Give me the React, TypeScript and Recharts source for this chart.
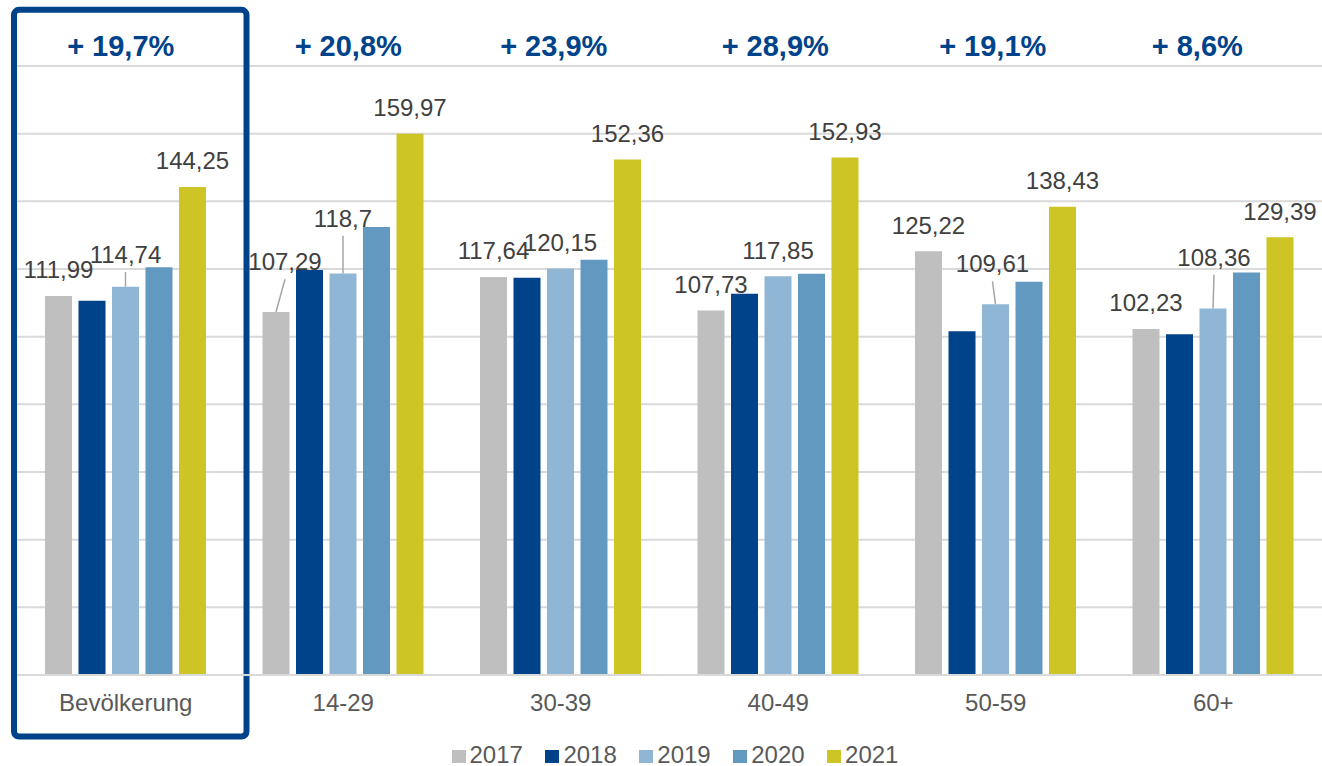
import React from 'react';
import { BarChart, Bar, XAxis, YAxis, CartesianGrid, Legend, LabelList, ReferenceArea } from 'recharts';

const categories = ['Bevölkerung', '14-29', '30-39', '40-49', '50-59', '60+'];
const growthLabels = ['+ 19,7%', '+ 20,8%', '+ 23,9%', '+ 28,9%', '+ 19,1%', '+ 8,6%'];
const values2017 = [111.99, 107.29, 117.64, 107.73, 125.22, 102.23];
const values2018 = [110.6, 119.7, 117.4, 112.7, 101.6, 100.7];
const values2019 = [114.74, 118.7, 120.15, 117.85, 109.61, 108.36];
const values2020 = [120.5, 132.4, 122.7, 118.6, 116.2, 119.0];
const values2021 = [144.25, 159.97, 152.36, 152.93, 138.43, 129.39];
const yTicks = [0, 20, 40, 60, 80, 100, 120, 140, 160, 180];
const highlightedCategory = 'Bevölkerung';

// styling (not data)
const colors: Record<string, string> = {
  '2017': '#BFBFBF',
  '2018': '#00438A',
  '2019': '#8FB7D5',
  '2020': '#6299C1',
  '2021': '#CDC425',
};
const growthDx = [-5, 5, -7, -3, -3, -16];
const labelTweaks: Record<string, { dx: number; lift: number }> = {
  '2019|Bevölkerung': { dx: 0, lift: 6 },
  '2017|14-29': { dx: 9, lift: 24 },
  '2019|14-29': { dx: 0, lift: 29 },
  '2019|50-59': { dx: -3, lift: 14 },
  '2019|60+': { dx: 1, lift: 25 },
};

const data = categories.map((name, i) => ({
  name,
  '2017': values2017[i],
  '2018': values2018[i],
  '2019': values2019[i],
  '2020': values2020[i],
  '2021': values2021[i],
}));

const formatValue = (v: number) => String(v).replace('.', ',');

const makeLabel = (series: string, values: number[]) => (props: any) => {
  const vb = props.viewBox || {};
  const x = vb.x ?? props.x;
  const y = vb.y ?? props.y;
  const w = vb.width ?? props.width;
  const idx = typeof props.index === 'number' ? props.index : values.indexOf(props.value);
  const cat = categories[idx];
  const st = labelTweaks[`${series}|${cat}`] || { dx: 0, lift: 0 };
  const cx = x + w / 2;
  const baseline = y - 17.7 - st.lift;
  const tx = cx + st.dx;
  return (
    <g>
      {st.lift > 0 && (
        <line x1={tx} y1={baseline + 9} x2={cx} y2={y} stroke="#A6A6A6" strokeWidth={1.5} />
      )}
      <text x={tx} y={baseline} textAnchor="middle" fontSize={24} fill="#404040">
        {formatValue(props.value)}
      </text>
    </g>
  );
};

const GrowthTick = (props: any) => {
  const idx = props.index ?? props.payload?.index ?? 0;
  return (
    <text
      x={props.x + growthDx[idx]}
      y={props.y}
      textAnchor="middle"
      fontSize={29}
      fontWeight="bold"
      fill="#00438A"
    >
      {growthLabels[idx]}
    </text>
  );
};

const BoxShape = (props: any) => (
  <rect
    x={props.x - 3}
    y={props.y}
    width={props.width + 15}
    height={props.height}
    rx={5}
    ry={5}
    fill="none"
    stroke="#00438A"
    strokeWidth={6}
  />
);

const renderLegend = (props: any) => {
  const payload = props.payload || [];
  return (
    <div
      style={{
        width: 1322,
        height: 28,
        lineHeight: '28px',
        textAlign: 'center',
        paddingLeft: 28,
        boxSizing: 'border-box',
        fontSize: 24,
        color: '#595959',
        whiteSpace: 'nowrap',
      }}
    >
      <div style={{ position: 'relative', top: 3 }}>
        {payload.map((p: any, i: number) => (
          <span key={p.value} style={{ display: 'inline-block', marginLeft: i ? 22.5 : 0 }}>
            <span
              style={{
                display: 'inline-block',
                width: 14,
                height: 13,
                background: p.color,
                marginRight: 4,
                verticalAlign: 'baseline',
              }}
            />
            {p.value}
          </span>
        ))}
      </div>
    </div>
  );
};

export default function App() {
  return (
    <div
      style={{
        position: 'absolute',
        left: 0,
        top: 0,
        width: 1322,
        height: 766,
        background: '#fff',
        fontFamily: '"Liberation Sans", Arial, sans-serif',
      }}
    >
      <BarChart
        width={1322}
        height={766}
        data={data}
        margin={{ top: 0, right: 0, left: 17, bottom: 0 }}
        barGap={6.5}
      >
        <CartesianGrid vertical={false} stroke="#D9D9D9" strokeWidth={2} />
        <XAxis
          dataKey="name"
          interval={0}
          height={63}
          tickSize={0}
          tickMargin={19}
          tickLine={false}
          axisLine={{ stroke: '#D9D9D9', strokeWidth: 2 }}
          tick={{ fill: '#595959', fontSize: 24 }}
        />
        <XAxis
          xAxisId="top"
          dataKey="name"
          orientation="top"
          interval={0}
          height={66}
          tickSize={0}
          tickMargin={10}
          tickLine={false}
          axisLine={false}
          tick={<GrowthTick />}
        />
        <YAxis hide domain={[0, 180]} ticks={yTicks} />
        <Bar dataKey="2017" name="2017" fill={colors['2017']} barSize={27} isAnimationActive={false}>
          <LabelList dataKey="2017" content={makeLabel('2017', values2017)} />
        </Bar>
        <Bar dataKey="2018" name="2018" fill={colors['2018']} barSize={27} isAnimationActive={false} />
        <Bar dataKey="2019" name="2019" fill={colors['2019']} barSize={27} isAnimationActive={false}>
          <LabelList dataKey="2019" content={makeLabel('2019', values2019)} />
        </Bar>
        <Bar dataKey="2020" name="2020" fill={colors['2020']} barSize={27} isAnimationActive={false} />
        <Bar dataKey="2021" name="2021" fill={colors['2021']} barSize={27} isAnimationActive={false}>
          <LabelList dataKey="2021" content={makeLabel('2021', values2021)} />
        </Bar>
        <ReferenceArea
          x1={highlightedCategory}
          x2={highlightedCategory}
          y1={-18.2}
          y2={196.6}
          ifOverflow="visible"
          shape={<BoxShape />}
        />
        <Legend
          verticalAlign="bottom"
          align="center"
          width={1322}
          content={renderLegend}
          wrapperStyle={{ left: 0, bottom: 0 }}
        />
      </BarChart>
    </div>
  );
}
